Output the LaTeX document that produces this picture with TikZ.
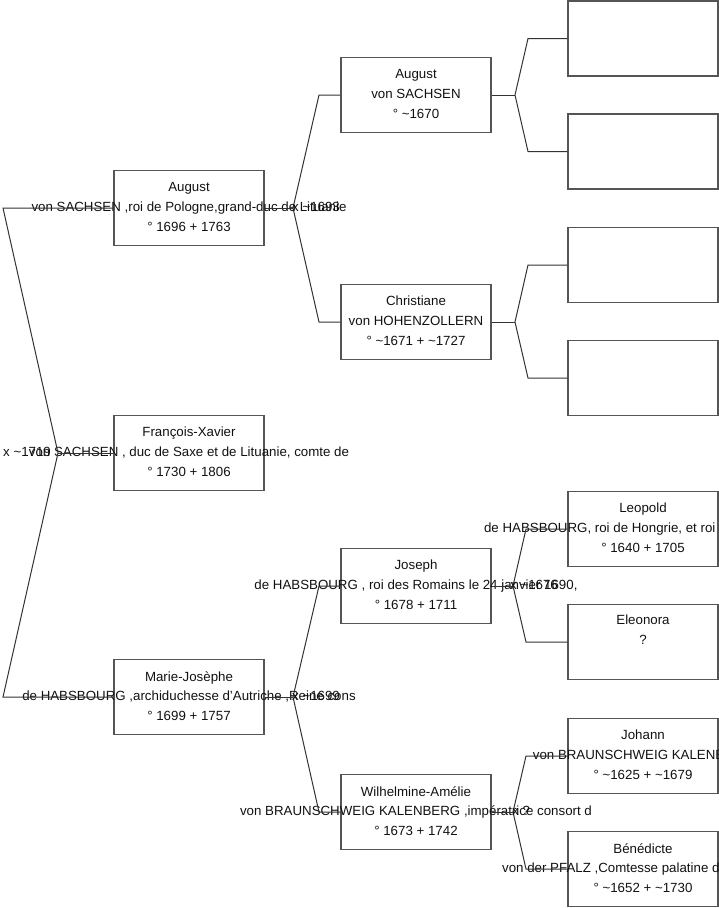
\documentclass[tikz,border=0pt]{standalone}
\usepackage{fontspec}
\setmainfont{Liberation Sans}
\usetikzlibrary{calc}
\definecolor{boxgray}{HTML}{555555}
\definecolor{linec}{HTML}{333333}
\definecolor{txtc}{HTML}{111111}
\begin{document}
\begin{tikzpicture}[x=1pt,y=-1pt,
  person/.style={draw=boxgray, line width=1.2pt, minimum width=150pt, minimum height=75pt, inner sep=0pt},
  ptext/.style={align=center, font=\fontsize{13.3}{19.8}\selectfont, text=txtc, inner sep=0pt},
  marr/.style={anchor=west, font=\fontsize{13.3}{19.8}\selectfont, text=txtc, inner sep=0pt},
  link/.style={draw=linec, line width=1pt}]
\useasboundingbox (0,0) rectangle (719,908);
\clip (0,0) rectangle (719,908);
% generation 1
\node[person] (g1a) at (189,208) {};
\node[person] (g1b) at (189,453) {};
\node[person] (g1c) at (189,697) {};
% generation 2
\node[person] (g2a) at (416,95) {};
\node[person] (g2b) at (416,322) {};
\node[person] (g2c) at (416,586) {};
\node[person] (g2d) at (416,812) {};
% generation 3
\node[person] (g3a) at (643,38.5) {};
\node[person] (g3b) at (643,151.5) {};
\node[person] (g3c) at (643,265) {};
\node[person] (g3d) at (643,378) {};
\node[person] (g3e) at (643,529) {};
\node[person] (g3f) at (643,642) {};
\node[person] (g3g) at (643,756) {};
\node[person] (g3h) at (643,869) {};
% texts
\node[ptext] (t1a) at ($(g1a)+(0,-1)$) {August\\von SACHSEN ,roi de Pologne,grand-duc de Lituanie\\° 1696 + 1763};
\node[ptext] (t1b) at ($(g1b)+(0,-1)$) {François-Xavier\\von SACHSEN , duc de Saxe et de Lituanie, comte de\\° 1730 + 1806};
\node[ptext] (t1c) at ($(g1c)+(0,-1)$) {Marie-Josèphe\\de HABSBOURG ,archiduchesse d'Autriche ,Reine cons\\° 1699 + 1757};
\node[ptext] (t2a) at ($(g2a)+(0,-1)$) {August\\von SACHSEN\\° \textasciitilde1670};
\node[ptext] (t2b) at ($(g2b)+(0,-1)$) {Christiane\\von HOHENZOLLERN\\° \textasciitilde1671 + \textasciitilde1727};
\node[ptext] (t2c) at ($(g2c)+(0,-1)$) {Joseph\\de HABSBOURG , roi des Romains le 24 janvier 1690,\\° 1678 + 1711};
\node[ptext] (t2d) at ($(g2d)+(0,-1)$) {Wilhelmine-Amélie\\von BRAUNSCHWEIG KALENBERG ,impératrice consort d\\° 1673 + 1742};
\node[ptext] (t3e) at ($(g3e)+(0,-1)$) {Leopold\\de HABSBOURG, roi de Hongrie, et roi de Bohême, e\\° 1640 + 1705};
\node[ptext] (t3f) at ($(g3f)+(0,-12)$) {Eleonora\\?};
\node[ptext] (t3g) at ($(g3g)+(0,-1)$) {Johann\\von BRAUNSCHWEIG KALENBERG\\° \textasciitilde1625 + \textasciitilde1679};
\node[ptext] (t3h) at ($(g3h)+(0,-1)$) {Bénédicte\\von der PFALZ ,Comtesse palatine de Simmern\\° \textasciitilde1652 + \textasciitilde1730};
% fork points
\coordinate (L1) at (3,208);
\coordinate (L2) at (58,453);
\coordinate (L3) at (3,697);
\coordinate (F1) at (293,208);
\coordinate (F1a) at (319,95);
\coordinate (F1b) at (319,322);
\coordinate (F2) at (293,697);
\coordinate (F2a) at (319,586);
\coordinate (F2b) at (319,812);
\coordinate (G1) at (515,95);
\coordinate (G1a) at (528,38.5);
\coordinate (G1b) at (528,151.5);
\coordinate (G2) at (515,322);
\coordinate (G2a) at (528,265);
\coordinate (G2b) at (528,378);
\coordinate (G3) at (513,586);
\coordinate (G3a) at (526,529);
\coordinate (G3b) at (526,642);
\coordinate (G4) at (513,812);
\coordinate (G4a) at (526,756);
\coordinate (G4b) at (526,869);
% connectors
\draw[link] (g1a.west) -- (L1) -- (L2) -- (L3) -- (g1c.west);
\draw[link] (L2) -- (g1b.west);
\draw[link] (g1a.east) -- (F1);
\draw[link] (g2a.west) -- (F1a) -- (F1) -- (F1b) -- (g2b.west);
\draw[link] (g1c.east) -- (F2);
\draw[link] (g2c.west) -- (F2a) -- (F2) -- (F2b) -- (g2d.west);
\draw[link] (g2a.east) -- (G1);
\draw[link] (g3a.west) -- (G1a) -- (G1) -- (G1b) -- (g3b.west);
\draw[link] (g2b.east) -- (G2);
\draw[link] (g3c.west) -- (G2a) -- (G2) -- (G2b) -- (g3d.west);
\draw[link] (g2c.east) -- (G3);
\draw[link] (g3e.west) -- (G3a) -- (G3) -- (G3b) -- (g3f.west);
\draw[link] (g2d.east) -- (G4);
\draw[link] (g3g.west) -- (G4a) -- (G4) -- (G4b) -- (g3h.west);
% marriage labels
\node[marr] (m1) at (3,452) {x \textasciitilde1719};
\node[marr] (m2) at (292,207) {x \textasciitilde1693};
\node[marr] (m3) at (292,696) {x \textasciitilde1699};
\node[marr] (m4) at (510,585) {x \textasciitilde1676};
\node[marr] (m5) at (512,811) {x ?};
\end{tikzpicture}
\end{document}
